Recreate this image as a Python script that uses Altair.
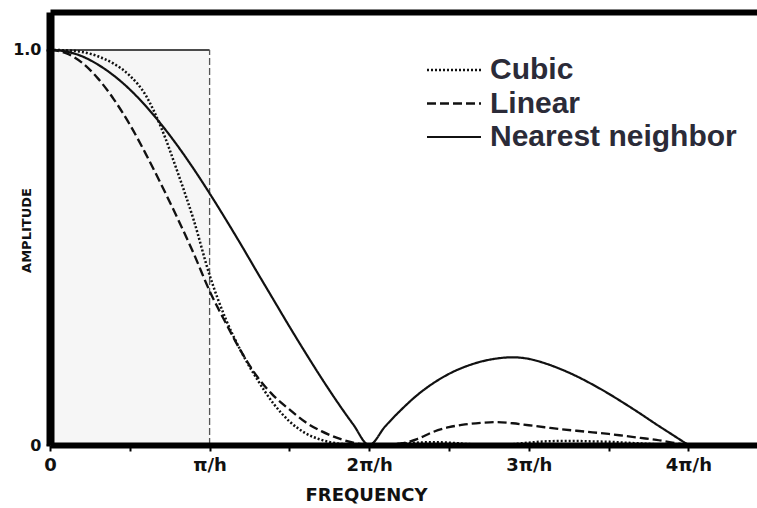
import altair as alt
import pandas as pd

# ---- data (frequency in units of pi/h) ----
freq = [0.0, 0.1, 0.2, 0.3, 0.4, 0.5, 0.6, 0.7, 0.8, 0.9,
        1.0, 1.1, 1.2, 1.3, 1.4, 1.5, 1.6, 1.7, 1.8, 1.9,
        2.0, 2.1, 2.2, 2.3, 2.4, 2.5, 2.6, 2.7, 2.8, 2.9,
        3.0, 3.1, 3.2, 3.3, 3.4, 3.5, 3.6, 3.7, 3.8, 3.9, 4.0]

nearest = [1.000, 0.996, 0.984, 0.963, 0.935, 0.900, 0.858, 0.810, 0.757, 0.699,
           0.637, 0.572, 0.505, 0.436, 0.368, 0.300, 0.234, 0.170, 0.109, 0.052,
           0.000, 0.047, 0.089, 0.126, 0.156, 0.180, 0.198, 0.211, 0.219, 0.222,
           0.218, 0.207, 0.192, 0.174, 0.153, 0.130, 0.105, 0.079, 0.052, 0.026, 0.000]

linear = [1.000, 0.992, 0.968, 0.928, 0.875, 0.811, 0.737, 0.657, 0.573, 0.485,
          0.390, 0.310, 0.235, 0.172, 0.125, 0.090, 0.058, 0.035, 0.018, 0.006,
          0.000, 0.001, 0.004, 0.015, 0.033, 0.045, 0.052, 0.056, 0.058, 0.055,
          0.050, 0.045, 0.040, 0.036, 0.032, 0.028, 0.023, 0.018, 0.013, 0.006, 0.000]

cubic = [1.000, 0.999, 0.995, 0.984, 0.965, 0.935, 0.885, 0.800, 0.690, 0.570,
         0.430, 0.320, 0.235, 0.165, 0.105, 0.060, 0.030, 0.013, 0.004, 0.001,
         0.000, 0.000, 0.003, 0.006, 0.007, 0.006, 0.003, 0.001, 0.000, 0.002,
         0.006, 0.009, 0.010, 0.010, 0.009, 0.008, 0.006, 0.004, 0.002, 0.001, 0.000]

series_order = ["Cubic", "Linear", "Nearest neighbor"]

# ideal (box) low-pass filter
ideal_cutoff = [0.0, 1.0]
ideal_gain = [0.0, 1.0]

x_ticks = [0, 0.5, 1, 1.5, 2, 2.5, 3, 3.5, 4]
x_tick_labels = ["0", "", "π/h", "", "2π/h", "", "3π/h", "", "4π/h"]
y_ticks = [0, 1]
y_tick_labels = ["0", "1.0"]

rows = []
for name, vals in zip(series_order, [cubic, linear, nearest]):
    for f, v in zip(freq, vals):
        rows.append({"freq": f, "amp": v, "series": name})
df = pd.DataFrame(rows)

box = pd.DataFrame({"x0": [ideal_cutoff[0]], "x1": [ideal_cutoff[1]],
                    "y0": [ideal_gain[0]], "y1": [ideal_gain[1]]})

x_scale = alt.Scale(domain=[0, 4.43], nice=False, zero=False)
y_scale = alt.Scale(domain=[0, 1.096], nice=False)

def lab_expr(vals, labels):
    parts = " : ".join(f"datum.value == {v} ? '{l}'" for v, l in zip(vals, labels))
    return parts + " : ''"

x_axis = alt.Axis(orient="bottom", values=x_ticks,
                  labelExpr=lab_expr(x_ticks, x_tick_labels),
                  title="FREQUENCY", domainWidth=6, domainColor="#000",
                  tickSize=6, tickWidth=2, tickColor="#000", labelPadding=5,
                  labelFont="DejaVu Sans", labelFontWeight="bold", labelFontSize=18,
                  labelColor="#111", labelFlush=False, labelOverlap=False,
                  titleFont="DejaVu Sans", titleFontWeight="bold", titleFontSize=18,
                  titleColor="#111", titleX=316, titleY=50, titleBaseline="middle",
                  titleAlign="center", grid=False, zindex=2)

y_axis = alt.Axis(orient="left", values=y_ticks,
                  labelExpr=lab_expr(y_ticks, y_tick_labels),
                  title="AMPLITUDE", domainWidth=8, domainColor="#000",
                  tickSize=4, tickWidth=2, tickColor="#000", labelPadding=5,
                  labelFont="DejaVu Sans", labelFontWeight="bold", labelFontSize=16,
                  labelColor="#111", labelFlush=False, labelOverlap=False,
                  titleFont="DejaVu Sans", titleFontWeight="bold", titleFontSize=13,
                  titleColor="#111", titleX=-24, titleY=218, titleAngle=270,
                  titleBaseline="middle", titleAlign="center", grid=False, zindex=2)

top_axis = alt.Axis(orient="top", labels=False, ticks=False, title=None,
                    domainWidth=6, domainColor="#000", grid=False, zindex=2)

fill = alt.Chart(box).mark_rect(color="#f6f6f6").encode(
    x=alt.X("x0:Q", scale=x_scale, axis=top_axis),
    x2="x1:Q",
    y=alt.Y("y0:Q", scale=y_scale, axis=None),
    y2="y1:Q",
)

box_top = alt.Chart(box).mark_rule(color="#111", strokeWidth=1.6).encode(
    x=alt.X("x0:Q", scale=x_scale, axis=None),
    x2="x1:Q",
    y=alt.Y("y1:Q", scale=y_scale, axis=None),
)

box_side = alt.Chart(box).mark_rule(color="#555", strokeWidth=1.3,
                                    strokeDash=[7, 3]).encode(
    x=alt.X("x1:Q", scale=x_scale, axis=None),
    y=alt.Y("y0:Q", scale=y_scale, axis=None),
    y2="y1:Q",
)

legend = alt.Legend(title=None, orient="none", legendX=377, legendY=43,
                    symbolType="M-3,0H3", symbolSize=324, symbolStrokeColor="#111",
                    symbolOffset=12, labelOffset=21,
                    labelFont="Liberation Sans", labelFontWeight="bold",
                    labelFontSize=30, labelColor="#2b2b38",
                    rowPadding=3.5, padding=0, labelLimit=400)

lines = alt.Chart(df).mark_line(color="#111", interpolate="monotone").encode(
    x=alt.X("freq:Q", scale=x_scale, axis=x_axis),
    y=alt.Y("amp:Q", scale=y_scale, axis=y_axis),
    strokeDash=alt.StrokeDash("series:N",
                              scale=alt.Scale(domain=series_order,
                                              range=[[2, 2], [9, 4], [1, 0]]),
                              legend=legend),
    strokeWidth=alt.StrokeWidth("series:N",
                                scale=alt.Scale(domain=series_order,
                                                range=[2.5, 2.2, 3.2]),
                                legend=legend),
    detail="series:N",
)

chart = alt.layer(fill, box_top, box_side, lines).resolve_axis(
    x="independent", y="independent"
).properties(
    width=707, height=433,
    autosize=alt.AutoSizeParams(type="none"),
    padding={"left": 50, "top": 12, "right": 0, "bottom": 63},
    background="white",
).configure_view(stroke=None)

chart.save("out.html", embed_options={"renderer": "svg", "actions": False})
